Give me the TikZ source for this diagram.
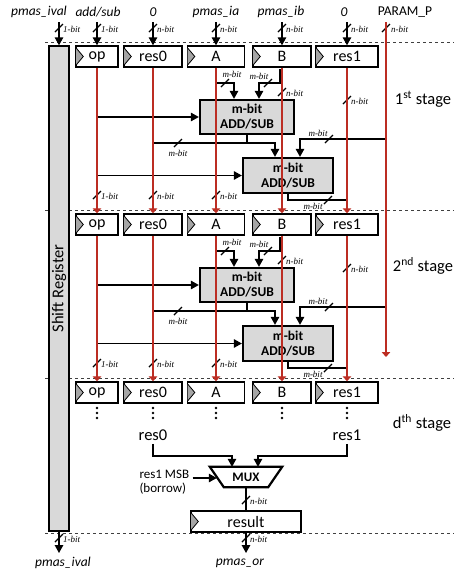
\documentclass[tikz,border=0pt]{standalone}
\usepackage{fontspec}
\setmainfont{Carlito}
\newfontfamily\tms{Liberation Serif}
\usetikzlibrary{arrows.meta,calc}
\definecolor{rline}{RGB}{188,45,35}
\definecolor{boxgray}{RGB}{217,217,217}
\definecolor{clkgray}{RGB}{165,165,165}
\newcounter{lblc}
\newcommand\slashmk[2]{\draw[wire] (#1-4,#2+4) -- (#1+4,#2-4);}
\newcommand\bitlab[4]{\stepcounter{lblc}\node[bitlbl,anchor=#3] (bl\arabic{lblc}) at (#1,#2) {#4};}
\newcommand\clk[1]{\draw[line width=0.8pt, fill=clkgray] ($(#1.north west)+(0.7,2.5)$) -- ($(#1.west)+(8,0)$) -- ($(#1.south west)+(0.7,-2.5)$);}
\begin{document}
\begin{tikzpicture}[x=1pt,y=-1pt,
  reg/.style={draw, line width=1.4pt, minimum height=21pt, inner sep=0pt, fill=white, font=\fontsize{16}{16}\selectfont},
  adder/.style={draw, line width=2.3pt, fill=boxgray, inner sep=0pt, align=center, font=\fontsize{13.5}{15}\selectfont\bfseries},
  conn/.style={line width=1.4pt, -{Triangle[length=8pt,width=8.5pt]}},
  wire/.style={line width=1.4pt},
  rarr/.style={draw=rline, line width=1.4pt, -{Triangle[length=5pt,width=8.5pt]}},
  bitlbl/.style={font=\tms\itshape\fontsize{9}{9}\selectfont, inner sep=0pt},
  toplbl/.style={font=\fontsize{13.5}{15}\selectfont\itshape, inner sep=1pt},
  stlbl/.style={font=\fontsize{16.5}{18}\selectfont, inner sep=1pt},
  sep/.style={dashed, line width=0.8pt, draw=black!75}
]
\useasboundingbox (0,0) rectangle (454,571);

% separators
\draw[sep] (45,42) -- (454,42);
\draw[sep] (45,210) -- (454,210);
\draw[sep] (45,378) -- (454,378);
\draw[sep] (45,533) -- (454,533);

% shift register
\node[draw, line width=1.4pt, fill=boxgray, minimum width=20pt, minimum height=485pt, inner sep=0pt] (sr) at (59,288.5) {};
\node[rotate=90, font=\fontsize{16.5}{18}\selectfont] (srt) at (sr.center) {Shift Register};

% top labels
\node[toplbl] (t0) at (39,12) {pmas\_ival};
\node[toplbl] (t1) at (98,12) {add/sub};
\node[toplbl] (t2) at (153,12) {0};
\node[toplbl] (t3) at (216,12) {pmas\_ia};
\node[toplbl] (t4) at (281,12) {pmas\_ib};
\node[toplbl] (t5) at (344,12) {0};
\node[toplbl, font=\fontsize{13.5}{15}\selectfont] (t6) at (405,12) {PARAM\_P};

% registers of all stages
\foreach \s in {1,2,3}{
  \pgfmathsetmacro{\yc}{56.5+(\s-1)*168}
  \node[reg, minimum width=42pt] (op\s) at (97,\yc) {op};
  \node[reg, minimum width=58pt] (rz\s) at (153,\yc) {res0};
  \node[reg, minimum width=57pt] (A\s) at (216,\yc) {A};
  \node[reg, minimum width=58pt] (B\s) at (282,\yc) {B};
  \node[reg, minimum width=62pt] (ro\s) at (347,\yc) {res1};
  \foreach \n in {op,rz,A,B,ro}{\clk{\n\s}}
}

% top inputs
\coordinate (i0) at (59,22);
\coordinate (i1) at (97,22);
\coordinate (i2) at (153,22);
\coordinate (i3) at (216,22);
\coordinate (i4) at (282,22);
\coordinate (i5) at (347,22);
\draw[conn] (i0) -- (sr.north);
\draw[conn] (i1) -- (op1.north);
\draw[conn] (i2) -- (rz1.north);
\draw[conn] (i3) -- (A1.north);
\draw[conn] (i4) -- (B1.north);
\draw[conn] (i5) -- (ro1.north);
\slashmk{59}{28}\bitlab{63}{29}{west}{1-bit}
\slashmk{97}{28}\bitlab{101}{29}{west}{1-bit}
\slashmk{153}{28}\bitlab{157}{29}{west}{n-bit}
\slashmk{216}{28}\bitlab{220}{29}{west}{n-bit}
\slashmk{282}{28}\bitlab{286}{29}{west}{n-bit}
\slashmk{347}{28}\bitlab{351}{29}{west}{n-bit}

% PARAM_P line
\coordinate (pp) at (386,22);
\coordinate (ppe) at (386,357);
\slashmk{386}{28}\bitlab{391}{29}{west}{n-bit}

% stages 1 and 2
\foreach \s in {1,2}{
  \pgfmathsetmacro{\d}{(\s-1)*168}
  \pgfmathtruncatemacro{\t}{\s+1}
  \node[adder, minimum width=94pt, minimum height=34pt] (sa\s) at (247,117+\d) {m-bit\\ADD/SUB};
  \node[adder, minimum width=90pt, minimum height=35pt] (sb\s) at (288,175.5+\d) {m-bit\\ADD/SUB};
  % A branch
  \coordinate (ja\s) at (216,83+\d);
  \draw[conn] (ja\s) -| ($(sa\s.north)+(-13,0)$);
  \slashmk{225}{83+\d}\bitlab{232}{74+\d}{center}{m-bit}
  % B branch
  \coordinate (jb\s) at (280,69+\d);
  \draw[conn] (jb\s) -- ++(0,14) -| ($(sa\s.north)+(12,0)$);
  \slashmk{268}{83+\d}\bitlab{259}{76+\d}{center}{m-bit}
  \slashmk{282}{92+\d}\bitlab{286}{93+\d}{west}{n-bit}
  \slashmk{347}{100+\d}\bitlab{351}{101+\d}{west}{n-bit}
  % op inputs
  \draw[conn] (sa\s.west -| op\s.south) -- (sa\s.west);
  \draw[conn] (sb\s.west -| op\s.south) -- (sb\s.west);
  % res0 and sa output into sb
  \coordinate (jr\s) at (153,143+\d);
  \draw[conn] (jr\s) -| ($(sb\s.north)+(-13,0)$);
  \draw[wire] (sa\s.south) -- (sa\s.south |- jr\s);
  \slashmk{178}{143+\d}\bitlab{178}{153+\d}{center}{m-bit}
  % PARAM_P into sb
  \coordinate (jp\s) at (386,139+\d);
  \draw[conn] (jp\s) -| ($(sb\s.north)+(12,0)$);
  \slashmk{329}{139+\d}\bitlab{318}{133+\d}{center}{m-bit}
  % sb output
  \coordinate (jo\s) at (347,200+\d);
  \draw[wire] (sb\s.south) |- (jo\s);
  \slashmk{328}{200+\d}\bitlab{313}{206+\d}{center}{m-bit}
  % bottom slashes
  \slashmk{97}{195+\d}\bitlab{101}{196+\d}{west}{1-bit}
  \slashmk{153}{195+\d}\bitlab{157}{196+\d}{west}{n-bit}
  \slashmk{216}{195+\d}\bitlab{220}{196+\d}{west}{n-bit}
  % red pipeline lines
  \foreach \n in {op,rz,A,B,ro}{\draw[rarr] (\n\s.south) -- (\n\t.north);}
}
\draw[rarr] (pp) -- (ppe);

% stage labels
\node[stlbl] (st1) at (423,99) {1\textsuperscript{st} stage};
\node[stlbl] (st2) at (423,266) {2\textsuperscript{nd} stage};
\node[stlbl] (st3) at (422,423) {d\textsuperscript{th} stage};

% dots in stage d
\foreach \x in {97,153,216,282,347}{
  \foreach \y in {408,413,418}{\fill (\x,\y) circle (1.4pt);}
}

% final stage
\node[font=\fontsize{16.5}{18}\selectfont] (fr0) at (153,435) {res0};
\node[font=\fontsize{16.5}{18}\selectfont] (fr1) at (347,435) {res1};
\node[font=\fontsize{13}{14}\selectfont\bfseries, minimum width=44pt, minimum height=20pt, inner sep=0pt] (mux) at (246,477) {MUX};
\draw[line width=2.2pt, line join=miter] ($(mux.north west)+(-14,0)$) -- ($(mux.north east)+(14,0)$) -- (mux.south east) -- (mux.south west) -- cycle;
\draw[conn] (fr0.south) |- ($(mux.north)+(-14,-11)$) -- ($(mux.north)+(-14,0)$);
\draw[conn] (fr1.south) |- ($(mux.north)+(12,-11)$) -- ($(mux.north)+(12,0)$);
\node[align=left, anchor=west, font=\fontsize{13}{14}\selectfont] (msb) at (136,482) {res1 MSB\\(borrow)};
\draw[conn] ($(msb.east)+(0,-4)$) -- ($(mux.west |- msb.east)+(-7,-4)$);

\node[reg, minimum width=110pt] (res) at (246,521.5) {result};
\clk{res}
\draw[wire] (mux.south) -- (res.north);
\slashmk{246}{500}\bitlab{250}{501}{west}{n-bit}

% outputs
\coordinate (o0) at (59,553);
\coordinate (o1) at (246,553);
\draw[conn] (sr.south) -- (o0);
\draw[conn] (res.south) -- (o1);
\slashmk{59}{538}\bitlab{63}{539}{west}{1-bit}
\slashmk{246}{538}\bitlab{250}{539}{west}{n-bit}
\node[toplbl] (b0) at (63,563) {pmas\_ival};
\node[toplbl] (b1) at (240,563) {pmas\_or};
\end{tikzpicture}
\end{document}
